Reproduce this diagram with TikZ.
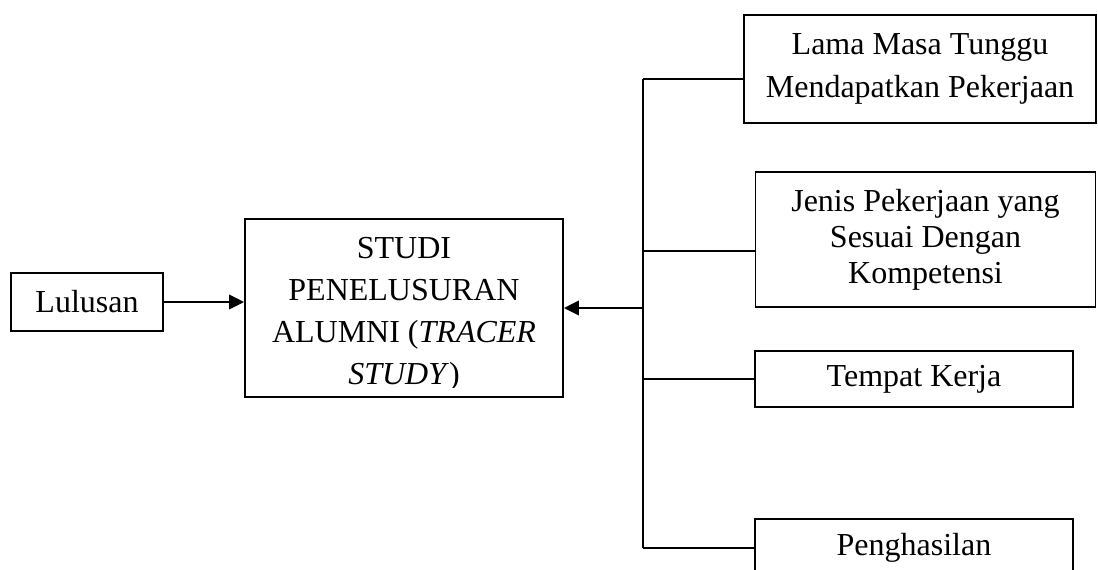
\documentclass[tikz,border=0pt]{standalone}
\usepackage{fontspec}
\setmainfont{Liberation Serif}
\usetikzlibrary{arrows.meta}

\begin{document}
\begin{tikzpicture}[x=0.375pt, y=-0.375pt,
  font=\fontsize{12}{15}\selectfont,
  box/.style={draw, line width=0.7pt, inner sep=0pt, align=center},
  conn/.style={line width=0.7pt},
  arr/.style={line width=0.9pt, -{Triangle[length=5.6pt, width=5.4pt]}}]
\useasboundingbox (0,0) rectangle (1098,569);
\clip (0,0) rectangle (1098,569);
% left hand
\node[box, minimum width=56.8pt, minimum height=21.9pt] (lulusan) at (87,302) {Lulusan};
\node[box, minimum width=119.25pt, minimum height=66.75pt] (studi) at (404,308) {};
\scope
\clip (245,219) rectangle (563,387);
\node[align=center, font=\fontsize{12}{15.75}\selectfont] (studitext) at (404,314)
  {STUDI\\PENELUSURAN\\ALUMNI (\textit{TRACER}\\\textit{STUDY})};
\endscope
% right hand
\node[box, minimum width=131.8pt, minimum height=40.5pt,
      font=\fontsize{12}{16.1}\selectfont] (lama) at (920,69)
  {Lama Masa Tunggu\\Mendapatkan Pekerjaan};
\node[box, minimum width=127.5pt, minimum height=50.6pt,
      font=\fontsize{12}{13.5}\selectfont] (jenis) at (925.5,239.5)
  {Jenis Pekerjaan yang\\Sesuai Dengan\\Kompetensi};
\node[box, minimum width=119.1pt, minimum height=21pt] (tempat) at (914,379) {Tempat Kerja};
\node[box, minimum width=119.1pt, minimum height=21.75pt] (gaji) at (914,548) {Penghasilan};
% connectors
\coordinate (b1) at (643,79);
\coordinate (b2) at (643,251);
\coordinate (b3) at (643,379);
\coordinate (b4) at (643,548);
\coordinate (join) at (643,308);
\draw[line width=0.9pt] (b1) -- (b4);
\draw[conn] (b1) -- (b1 -| lama.west);
\draw[conn] (b2) -- (b2 -| jenis.west);
\draw[conn] (b3) -- (b3 -| tempat.west);
\draw[conn] (b4) -- (b4 -| gaji.west);
\draw[arr] (join) -- (studi.east);
\draw[arr] (lulusan.east) -- (lulusan.east -| studi.west);
\end{tikzpicture}
\end{document}
